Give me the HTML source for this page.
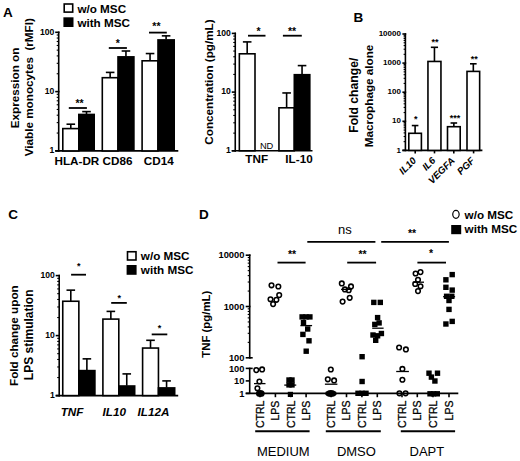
<!DOCTYPE html>
<html><head><meta charset="utf-8"><style>
html,body{margin:0;padding:0;background:#fff;width:520px;height:461px;overflow:hidden}
svg{display:block}
text{font-family:"Liberation Sans",sans-serif;fill:#000}
</style></head><body>
<svg width="520" height="461" viewBox="0 0 520 461">
<rect width="520" height="461" fill="#fff"/>
<text x="3.00" y="16.80" font-size="13.5" font-weight="bold" font-style="normal" text-anchor="start">A</text>
<rect x="64.20" y="4.00" width="8.50" height="8.10" fill="#fff" stroke="#000" stroke-width="1.6"/>
<text x="77.40" y="12.50" font-size="11.7" font-weight="bold" font-style="normal" text-anchor="start">w/o MSC</text>
<rect x="63.40" y="17.30" width="10.10" height="9.70" fill="#000"/>
<text x="77.40" y="26.70" font-size="11.7" font-weight="bold" font-style="normal" text-anchor="start">with MSC</text>
<line x1="58.70" y1="31.50" x2="58.70" y2="151.70" stroke="#000" stroke-width="1.6"/>
<line x1="55.20" y1="150.90" x2="59.50" y2="150.90" stroke="#000" stroke-width="1.6"/>
<line x1="56.70" y1="133.05" x2="58.70" y2="133.05" stroke="#000" stroke-width="1.1"/>
<line x1="56.70" y1="122.61" x2="58.70" y2="122.61" stroke="#000" stroke-width="1.1"/>
<line x1="56.70" y1="115.20" x2="58.70" y2="115.20" stroke="#000" stroke-width="1.1"/>
<line x1="56.70" y1="109.45" x2="58.70" y2="109.45" stroke="#000" stroke-width="1.1"/>
<line x1="56.70" y1="104.76" x2="58.70" y2="104.76" stroke="#000" stroke-width="1.1"/>
<line x1="56.70" y1="100.79" x2="58.70" y2="100.79" stroke="#000" stroke-width="1.1"/>
<line x1="56.70" y1="97.35" x2="58.70" y2="97.35" stroke="#000" stroke-width="1.1"/>
<line x1="56.70" y1="94.31" x2="58.70" y2="94.31" stroke="#000" stroke-width="1.1"/>
<line x1="55.20" y1="91.60" x2="59.50" y2="91.60" stroke="#000" stroke-width="1.6"/>
<line x1="56.70" y1="73.75" x2="58.70" y2="73.75" stroke="#000" stroke-width="1.1"/>
<line x1="56.70" y1="63.31" x2="58.70" y2="63.31" stroke="#000" stroke-width="1.1"/>
<line x1="56.70" y1="55.90" x2="58.70" y2="55.90" stroke="#000" stroke-width="1.1"/>
<line x1="56.70" y1="50.15" x2="58.70" y2="50.15" stroke="#000" stroke-width="1.1"/>
<line x1="56.70" y1="45.46" x2="58.70" y2="45.46" stroke="#000" stroke-width="1.1"/>
<line x1="56.70" y1="41.49" x2="58.70" y2="41.49" stroke="#000" stroke-width="1.1"/>
<line x1="56.70" y1="38.05" x2="58.70" y2="38.05" stroke="#000" stroke-width="1.1"/>
<line x1="56.70" y1="35.01" x2="58.70" y2="35.01" stroke="#000" stroke-width="1.1"/>
<line x1="55.20" y1="32.30" x2="59.50" y2="32.30" stroke="#000" stroke-width="1.6"/>
<text x="54.30" y="34.62" font-size="8.6" font-weight="bold" font-style="normal" text-anchor="end">100</text>
<text x="54.30" y="93.92" font-size="8.6" font-weight="bold" font-style="normal" text-anchor="end">10</text>
<text x="54.30" y="153.22" font-size="8.6" font-weight="bold" font-style="normal" text-anchor="end">1</text>
<line x1="55.20" y1="150.90" x2="178.30" y2="150.90" stroke="#000" stroke-width="1.6"/>
<line x1="70.80" y1="128.60" x2="70.80" y2="124.20" stroke="#000" stroke-width="1.6"/>
<line x1="66.50" y1="124.20" x2="75.10" y2="124.20" stroke="#000" stroke-width="1.6"/>
<rect x="62.80" y="128.60" width="16.00" height="22.30" fill="#fff" stroke="#000" stroke-width="1.6"/>
<line x1="86.50" y1="114.15" x2="86.50" y2="111.60" stroke="#000" stroke-width="1.6"/>
<line x1="82.20" y1="111.60" x2="90.80" y2="111.60" stroke="#000" stroke-width="1.6"/>
<rect x="78.00" y="113.65" width="17.00" height="37.25" fill="#000"/>
<line x1="110.15" y1="77.70" x2="110.15" y2="72.40" stroke="#000" stroke-width="1.6"/>
<line x1="105.85" y1="72.40" x2="114.45" y2="72.40" stroke="#000" stroke-width="1.6"/>
<rect x="102.30" y="77.70" width="15.70" height="73.20" fill="#fff" stroke="#000" stroke-width="1.6"/>
<line x1="125.95" y1="56.56" x2="125.95" y2="51.00" stroke="#000" stroke-width="1.6"/>
<line x1="121.65" y1="51.00" x2="130.25" y2="51.00" stroke="#000" stroke-width="1.6"/>
<rect x="117.20" y="56.06" width="17.50" height="94.84" fill="#000"/>
<line x1="150.05" y1="60.80" x2="150.05" y2="53.55" stroke="#000" stroke-width="1.6"/>
<line x1="145.75" y1="53.55" x2="154.35" y2="53.55" stroke="#000" stroke-width="1.6"/>
<rect x="142.10" y="60.80" width="15.90" height="90.10" fill="#fff" stroke="#000" stroke-width="1.6"/>
<line x1="166.10" y1="39.60" x2="166.10" y2="35.85" stroke="#000" stroke-width="1.6"/>
<line x1="161.80" y1="35.85" x2="170.40" y2="35.85" stroke="#000" stroke-width="1.6"/>
<rect x="157.20" y="39.10" width="17.80" height="111.80" fill="#000"/>
<line x1="68.80" y1="108.00" x2="86.90" y2="108.00" stroke="#000" stroke-width="1.8"/>
<text x="79.50" y="106.85" font-size="10.5" font-weight="bold" font-style="normal" text-anchor="middle">**</text>
<line x1="108.80" y1="48.00" x2="126.90" y2="48.00" stroke="#000" stroke-width="1.8"/>
<text x="117.90" y="46.85" font-size="10.5" font-weight="bold" font-style="normal" text-anchor="middle">*</text>
<line x1="149.00" y1="32.60" x2="166.80" y2="32.60" stroke="#000" stroke-width="1.8"/>
<text x="156.40" y="29.85" font-size="10.5" font-weight="bold" font-style="normal" text-anchor="middle">**</text>
<text x="76.90" y="165.20" font-size="11.7" font-weight="bold" font-style="normal" text-anchor="middle">HLA-DR</text>
<text x="117.50" y="165.20" font-size="11.7" font-weight="bold" font-style="normal" text-anchor="middle">CD86</text>
<text x="158.75" y="165.20" font-size="11.7" font-weight="bold" font-style="normal" text-anchor="middle">CD14</text>
<text x="18.60" y="87.90" font-size="11.7" font-weight="bold" font-style="normal" text-anchor="middle" transform="rotate(-90 18.60 87.90)">Expression on</text>
<text x="33.30" y="87.20" font-size="11.7" font-weight="bold" font-style="normal" text-anchor="middle" transform="rotate(-90 33.30 87.20)">Viable monocytes&#160; (rMFI)</text>
<line x1="235.25" y1="32.60" x2="235.25" y2="151.60" stroke="#000" stroke-width="1.6"/>
<line x1="231.75" y1="150.80" x2="236.05" y2="150.80" stroke="#000" stroke-width="1.6"/>
<line x1="233.25" y1="133.13" x2="235.25" y2="133.13" stroke="#000" stroke-width="1.1"/>
<line x1="233.25" y1="122.79" x2="235.25" y2="122.79" stroke="#000" stroke-width="1.1"/>
<line x1="233.25" y1="115.46" x2="235.25" y2="115.46" stroke="#000" stroke-width="1.1"/>
<line x1="233.25" y1="109.77" x2="235.25" y2="109.77" stroke="#000" stroke-width="1.1"/>
<line x1="233.25" y1="105.12" x2="235.25" y2="105.12" stroke="#000" stroke-width="1.1"/>
<line x1="233.25" y1="101.19" x2="235.25" y2="101.19" stroke="#000" stroke-width="1.1"/>
<line x1="233.25" y1="97.79" x2="235.25" y2="97.79" stroke="#000" stroke-width="1.1"/>
<line x1="233.25" y1="94.79" x2="235.25" y2="94.79" stroke="#000" stroke-width="1.1"/>
<line x1="231.75" y1="92.10" x2="236.05" y2="92.10" stroke="#000" stroke-width="1.6"/>
<line x1="233.25" y1="74.43" x2="235.25" y2="74.43" stroke="#000" stroke-width="1.1"/>
<line x1="233.25" y1="64.09" x2="235.25" y2="64.09" stroke="#000" stroke-width="1.1"/>
<line x1="233.25" y1="56.76" x2="235.25" y2="56.76" stroke="#000" stroke-width="1.1"/>
<line x1="233.25" y1="51.07" x2="235.25" y2="51.07" stroke="#000" stroke-width="1.1"/>
<line x1="233.25" y1="46.42" x2="235.25" y2="46.42" stroke="#000" stroke-width="1.1"/>
<line x1="233.25" y1="42.49" x2="235.25" y2="42.49" stroke="#000" stroke-width="1.1"/>
<line x1="233.25" y1="39.09" x2="235.25" y2="39.09" stroke="#000" stroke-width="1.1"/>
<line x1="233.25" y1="36.09" x2="235.25" y2="36.09" stroke="#000" stroke-width="1.1"/>
<line x1="231.75" y1="33.40" x2="236.05" y2="33.40" stroke="#000" stroke-width="1.6"/>
<text x="230.85" y="35.72" font-size="8.6" font-weight="bold" font-style="normal" text-anchor="end">100</text>
<text x="230.85" y="94.42" font-size="8.6" font-weight="bold" font-style="normal" text-anchor="end">10</text>
<text x="230.85" y="153.12" font-size="8.6" font-weight="bold" font-style="normal" text-anchor="end">1</text>
<line x1="231.75" y1="150.80" x2="312.50" y2="150.80" stroke="#000" stroke-width="1.6"/>
<line x1="247.18" y1="53.80" x2="247.18" y2="41.90" stroke="#000" stroke-width="1.6"/>
<line x1="242.88" y1="41.90" x2="251.48" y2="41.90" stroke="#000" stroke-width="1.6"/>
<rect x="239.35" y="53.80" width="15.65" height="97.00" fill="#fff" stroke="#000" stroke-width="1.6"/>
<text x="266.60" y="148.70" font-size="9.3" font-weight="normal" font-style="normal" text-anchor="middle">ND</text>
<line x1="286.62" y1="107.80" x2="286.62" y2="92.95" stroke="#000" stroke-width="1.6"/>
<line x1="282.32" y1="92.95" x2="290.93" y2="92.95" stroke="#000" stroke-width="1.6"/>
<rect x="278.95" y="107.80" width="15.35" height="43.00" fill="#fff" stroke="#000" stroke-width="1.6"/>
<line x1="302.05" y1="74.40" x2="302.05" y2="65.60" stroke="#000" stroke-width="1.6"/>
<line x1="297.75" y1="65.60" x2="306.35" y2="65.60" stroke="#000" stroke-width="1.6"/>
<rect x="293.50" y="73.90" width="17.10" height="76.90" fill="#000"/>
<line x1="248.00" y1="35.70" x2="265.50" y2="35.70" stroke="#000" stroke-width="1.8"/>
<text x="258.60" y="35.45" font-size="10.5" font-weight="bold" font-style="normal" text-anchor="middle">*</text>
<line x1="282.90" y1="35.70" x2="301.80" y2="35.70" stroke="#000" stroke-width="1.8"/>
<text x="292.00" y="35.35" font-size="10.5" font-weight="bold" font-style="normal" text-anchor="middle">**</text>
<text x="256.70" y="163.20" font-size="11.7" font-weight="bold" font-style="normal" text-anchor="middle">TNF</text>
<text x="299.00" y="163.20" font-size="11.7" font-weight="bold" font-style="normal" text-anchor="middle">IL-10</text>
<text x="213.30" y="82.00" font-size="11.7" font-weight="bold" font-style="normal" text-anchor="middle" transform="rotate(-90 213.30 82.00)">Concentration (pg/mL)</text>
<text x="353.40" y="22.00" font-size="13.5" font-weight="bold" font-style="normal" text-anchor="start">B</text>
<line x1="405.40" y1="33.20" x2="405.40" y2="151.20" stroke="#000" stroke-width="1.6"/>
<line x1="402.40" y1="150.40" x2="406.20" y2="150.40" stroke="#000" stroke-width="1.6"/>
<line x1="403.60" y1="141.64" x2="405.40" y2="141.64" stroke="#000" stroke-width="1.1"/>
<line x1="403.60" y1="136.52" x2="405.40" y2="136.52" stroke="#000" stroke-width="1.1"/>
<line x1="403.60" y1="132.88" x2="405.40" y2="132.88" stroke="#000" stroke-width="1.1"/>
<line x1="403.60" y1="130.06" x2="405.40" y2="130.06" stroke="#000" stroke-width="1.1"/>
<line x1="403.60" y1="127.76" x2="405.40" y2="127.76" stroke="#000" stroke-width="1.1"/>
<line x1="403.60" y1="125.81" x2="405.40" y2="125.81" stroke="#000" stroke-width="1.1"/>
<line x1="403.60" y1="124.12" x2="405.40" y2="124.12" stroke="#000" stroke-width="1.1"/>
<line x1="403.60" y1="122.63" x2="405.40" y2="122.63" stroke="#000" stroke-width="1.1"/>
<line x1="402.40" y1="121.30" x2="406.20" y2="121.30" stroke="#000" stroke-width="1.6"/>
<line x1="403.60" y1="112.54" x2="405.40" y2="112.54" stroke="#000" stroke-width="1.1"/>
<line x1="403.60" y1="107.42" x2="405.40" y2="107.42" stroke="#000" stroke-width="1.1"/>
<line x1="403.60" y1="103.78" x2="405.40" y2="103.78" stroke="#000" stroke-width="1.1"/>
<line x1="403.60" y1="100.96" x2="405.40" y2="100.96" stroke="#000" stroke-width="1.1"/>
<line x1="403.60" y1="98.66" x2="405.40" y2="98.66" stroke="#000" stroke-width="1.1"/>
<line x1="403.60" y1="96.71" x2="405.40" y2="96.71" stroke="#000" stroke-width="1.1"/>
<line x1="403.60" y1="95.02" x2="405.40" y2="95.02" stroke="#000" stroke-width="1.1"/>
<line x1="403.60" y1="93.53" x2="405.40" y2="93.53" stroke="#000" stroke-width="1.1"/>
<line x1="402.40" y1="92.20" x2="406.20" y2="92.20" stroke="#000" stroke-width="1.6"/>
<line x1="403.60" y1="83.44" x2="405.40" y2="83.44" stroke="#000" stroke-width="1.1"/>
<line x1="403.60" y1="78.32" x2="405.40" y2="78.32" stroke="#000" stroke-width="1.1"/>
<line x1="403.60" y1="74.68" x2="405.40" y2="74.68" stroke="#000" stroke-width="1.1"/>
<line x1="403.60" y1="71.86" x2="405.40" y2="71.86" stroke="#000" stroke-width="1.1"/>
<line x1="403.60" y1="69.56" x2="405.40" y2="69.56" stroke="#000" stroke-width="1.1"/>
<line x1="403.60" y1="67.61" x2="405.40" y2="67.61" stroke="#000" stroke-width="1.1"/>
<line x1="403.60" y1="65.92" x2="405.40" y2="65.92" stroke="#000" stroke-width="1.1"/>
<line x1="403.60" y1="64.43" x2="405.40" y2="64.43" stroke="#000" stroke-width="1.1"/>
<line x1="402.40" y1="63.10" x2="406.20" y2="63.10" stroke="#000" stroke-width="1.6"/>
<line x1="403.60" y1="54.34" x2="405.40" y2="54.34" stroke="#000" stroke-width="1.1"/>
<line x1="403.60" y1="49.22" x2="405.40" y2="49.22" stroke="#000" stroke-width="1.1"/>
<line x1="403.60" y1="45.58" x2="405.40" y2="45.58" stroke="#000" stroke-width="1.1"/>
<line x1="403.60" y1="42.76" x2="405.40" y2="42.76" stroke="#000" stroke-width="1.1"/>
<line x1="403.60" y1="40.46" x2="405.40" y2="40.46" stroke="#000" stroke-width="1.1"/>
<line x1="403.60" y1="38.51" x2="405.40" y2="38.51" stroke="#000" stroke-width="1.1"/>
<line x1="403.60" y1="36.82" x2="405.40" y2="36.82" stroke="#000" stroke-width="1.1"/>
<line x1="403.60" y1="35.33" x2="405.40" y2="35.33" stroke="#000" stroke-width="1.1"/>
<line x1="402.40" y1="34.00" x2="406.20" y2="34.00" stroke="#000" stroke-width="1.6"/>
<text x="400.90" y="36.16" font-size="8" font-weight="bold" font-style="normal" text-anchor="end">10000</text>
<text x="400.90" y="65.26" font-size="8" font-weight="bold" font-style="normal" text-anchor="end">1000</text>
<text x="400.90" y="94.36" font-size="8" font-weight="bold" font-style="normal" text-anchor="end">100</text>
<text x="400.90" y="123.46" font-size="8" font-weight="bold" font-style="normal" text-anchor="end">10</text>
<text x="400.90" y="152.56" font-size="8" font-weight="bold" font-style="normal" text-anchor="end">1</text>
<line x1="402.40" y1="150.40" x2="482.40" y2="150.40" stroke="#000" stroke-width="1.6"/>
<line x1="415.20" y1="150.40" x2="415.20" y2="153.40" stroke="#000" stroke-width="1.6"/>
<line x1="434.50" y1="150.40" x2="434.50" y2="153.40" stroke="#000" stroke-width="1.6"/>
<line x1="453.80" y1="150.40" x2="453.80" y2="153.40" stroke="#000" stroke-width="1.6"/>
<line x1="473.60" y1="150.40" x2="473.60" y2="153.40" stroke="#000" stroke-width="1.6"/>
<line x1="415.10" y1="133.30" x2="415.10" y2="125.55" stroke="#000" stroke-width="1.6"/>
<line x1="411.80" y1="125.55" x2="418.40" y2="125.55" stroke="#000" stroke-width="1.6"/>
<rect x="408.80" y="133.30" width="12.60" height="17.10" fill="#fff" stroke="#000" stroke-width="1.6"/>
<line x1="434.45" y1="61.45" x2="434.45" y2="47.30" stroke="#000" stroke-width="1.6"/>
<line x1="430.85" y1="47.30" x2="438.05" y2="47.30" stroke="#000" stroke-width="1.6"/>
<rect x="427.95" y="61.45" width="13.00" height="88.95" fill="#fff" stroke="#000" stroke-width="1.6"/>
<line x1="453.85" y1="126.70" x2="453.85" y2="123.00" stroke="#000" stroke-width="1.6"/>
<line x1="450.55" y1="123.00" x2="457.15" y2="123.00" stroke="#000" stroke-width="1.6"/>
<rect x="447.50" y="126.70" width="12.70" height="23.70" fill="#fff" stroke="#000" stroke-width="1.6"/>
<line x1="473.32" y1="71.40" x2="473.32" y2="63.80" stroke="#000" stroke-width="1.6"/>
<line x1="470.02" y1="63.80" x2="476.62" y2="63.80" stroke="#000" stroke-width="1.6"/>
<rect x="467.00" y="71.40" width="12.65" height="79.00" fill="#fff" stroke="#000" stroke-width="1.6"/>
<text x="415.70" y="122.30" font-size="9" font-weight="bold" font-style="normal" text-anchor="middle">*</text>
<text x="435.00" y="44.90" font-size="9" font-weight="bold" font-style="normal" text-anchor="middle">**</text>
<text x="455.10" y="121.40" font-size="9" font-weight="bold" font-style="normal" text-anchor="middle">***</text>
<text x="474.15" y="61.90" font-size="9" font-weight="bold" font-style="normal" text-anchor="middle">**</text>
<text x="416.80" y="161.20" font-size="9.7" font-weight="bold" font-style="italic" text-anchor="end" transform="rotate(-45 416.80 161.20)">IL10</text>
<text x="436.10" y="161.20" font-size="9.7" font-weight="bold" font-style="italic" text-anchor="end" transform="rotate(-45 436.10 161.20)">IL6</text>
<text x="455.40" y="161.20" font-size="9.7" font-weight="bold" font-style="italic" text-anchor="end" transform="rotate(-45 455.40 161.20)">VEGFA</text>
<text x="475.20" y="161.20" font-size="9.7" font-weight="bold" font-style="italic" text-anchor="end" transform="rotate(-45 475.20 161.20)">PGF</text>
<text x="358.20" y="95.20" font-size="12.2" font-weight="bold" font-style="normal" text-anchor="middle" transform="rotate(-90 358.20 95.20)">Fold change/</text>
<text x="373.00" y="96.00" font-size="11.7" font-weight="bold" font-style="normal" text-anchor="middle" transform="rotate(-90 373.00 96.00)">Macrophage alone</text>
<text x="8.30" y="219.40" font-size="13.5" font-weight="bold" font-style="normal" text-anchor="start">C</text>
<rect x="127.50" y="251.75" width="8.50" height="8.25" fill="#fff" stroke="#000" stroke-width="1.6"/>
<text x="140.80" y="259.90" font-size="11.7" font-weight="bold" font-style="normal" text-anchor="start">w/o MSC</text>
<rect x="126.60" y="265.00" width="10.00" height="9.80" fill="#000"/>
<text x="140.80" y="273.60" font-size="11.7" font-weight="bold" font-style="normal" text-anchor="start">with MSC</text>
<line x1="59.20" y1="274.80" x2="59.20" y2="396.40" stroke="#000" stroke-width="1.6"/>
<line x1="55.70" y1="395.60" x2="60.00" y2="395.60" stroke="#000" stroke-width="1.6"/>
<line x1="57.20" y1="377.54" x2="59.20" y2="377.54" stroke="#000" stroke-width="1.1"/>
<line x1="57.20" y1="366.97" x2="59.20" y2="366.97" stroke="#000" stroke-width="1.1"/>
<line x1="57.20" y1="359.48" x2="59.20" y2="359.48" stroke="#000" stroke-width="1.1"/>
<line x1="57.20" y1="353.66" x2="59.20" y2="353.66" stroke="#000" stroke-width="1.1"/>
<line x1="57.20" y1="348.91" x2="59.20" y2="348.91" stroke="#000" stroke-width="1.1"/>
<line x1="57.20" y1="344.89" x2="59.20" y2="344.89" stroke="#000" stroke-width="1.1"/>
<line x1="57.20" y1="341.41" x2="59.20" y2="341.41" stroke="#000" stroke-width="1.1"/>
<line x1="57.20" y1="338.35" x2="59.20" y2="338.35" stroke="#000" stroke-width="1.1"/>
<line x1="55.70" y1="335.60" x2="60.00" y2="335.60" stroke="#000" stroke-width="1.6"/>
<line x1="57.20" y1="317.54" x2="59.20" y2="317.54" stroke="#000" stroke-width="1.1"/>
<line x1="57.20" y1="306.97" x2="59.20" y2="306.97" stroke="#000" stroke-width="1.1"/>
<line x1="57.20" y1="299.48" x2="59.20" y2="299.48" stroke="#000" stroke-width="1.1"/>
<line x1="57.20" y1="293.66" x2="59.20" y2="293.66" stroke="#000" stroke-width="1.1"/>
<line x1="57.20" y1="288.91" x2="59.20" y2="288.91" stroke="#000" stroke-width="1.1"/>
<line x1="57.20" y1="284.89" x2="59.20" y2="284.89" stroke="#000" stroke-width="1.1"/>
<line x1="57.20" y1="281.41" x2="59.20" y2="281.41" stroke="#000" stroke-width="1.1"/>
<line x1="57.20" y1="278.35" x2="59.20" y2="278.35" stroke="#000" stroke-width="1.1"/>
<line x1="55.70" y1="275.60" x2="60.00" y2="275.60" stroke="#000" stroke-width="1.6"/>
<text x="54.80" y="277.92" font-size="8.6" font-weight="bold" font-style="normal" text-anchor="end">100</text>
<text x="54.80" y="337.92" font-size="8.6" font-weight="bold" font-style="normal" text-anchor="end">10</text>
<text x="54.80" y="397.92" font-size="8.6" font-weight="bold" font-style="normal" text-anchor="end">1</text>
<line x1="55.70" y1="395.60" x2="178.20" y2="395.60" stroke="#000" stroke-width="1.6"/>
<line x1="70.80" y1="301.25" x2="70.80" y2="290.15" stroke="#000" stroke-width="1.6"/>
<line x1="66.50" y1="290.15" x2="75.10" y2="290.15" stroke="#000" stroke-width="1.6"/>
<rect x="62.75" y="301.25" width="16.10" height="94.35" fill="#fff" stroke="#000" stroke-width="1.6"/>
<line x1="86.88" y1="370.30" x2="86.88" y2="358.85" stroke="#000" stroke-width="1.6"/>
<line x1="82.58" y1="358.85" x2="91.17" y2="358.85" stroke="#000" stroke-width="1.6"/>
<rect x="78.05" y="369.80" width="17.65" height="25.80" fill="#000"/>
<line x1="110.85" y1="319.10" x2="110.85" y2="311.40" stroke="#000" stroke-width="1.6"/>
<line x1="106.55" y1="311.40" x2="115.15" y2="311.40" stroke="#000" stroke-width="1.6"/>
<rect x="102.90" y="319.10" width="15.90" height="76.50" fill="#fff" stroke="#000" stroke-width="1.6"/>
<line x1="126.75" y1="385.70" x2="126.75" y2="373.90" stroke="#000" stroke-width="1.6"/>
<line x1="122.45" y1="373.90" x2="131.05" y2="373.90" stroke="#000" stroke-width="1.6"/>
<rect x="118.00" y="385.20" width="17.50" height="10.40" fill="#000"/>
<line x1="150.52" y1="348.05" x2="150.52" y2="340.30" stroke="#000" stroke-width="1.6"/>
<line x1="146.22" y1="340.30" x2="154.82" y2="340.30" stroke="#000" stroke-width="1.6"/>
<rect x="142.60" y="348.05" width="15.85" height="47.55" fill="#fff" stroke="#000" stroke-width="1.6"/>
<line x1="166.57" y1="387.60" x2="166.57" y2="380.90" stroke="#000" stroke-width="1.6"/>
<line x1="162.27" y1="380.90" x2="170.88" y2="380.90" stroke="#000" stroke-width="1.6"/>
<rect x="157.65" y="387.10" width="17.85" height="8.50" fill="#000"/>
<line x1="71.10" y1="274.70" x2="86.00" y2="274.70" stroke="#000" stroke-width="1.8"/>
<text x="78.80" y="269.30" font-size="9" font-weight="bold" font-style="normal" text-anchor="middle">*</text>
<line x1="111.20" y1="302.90" x2="126.80" y2="302.90" stroke="#000" stroke-width="1.8"/>
<text x="119.20" y="300.50" font-size="9" font-weight="bold" font-style="normal" text-anchor="middle">*</text>
<line x1="151.70" y1="334.40" x2="167.30" y2="334.40" stroke="#000" stroke-width="1.8"/>
<text x="159.40" y="331.30" font-size="9" font-weight="bold" font-style="normal" text-anchor="middle">*</text>
<text x="72.00" y="416.40" font-size="11.7" font-weight="bold" font-style="italic" text-anchor="middle">TNF</text>
<text x="114.30" y="416.40" font-size="11.7" font-weight="bold" font-style="italic" text-anchor="middle">IL10</text>
<text x="153.50" y="416.40" font-size="11.7" font-weight="bold" font-style="italic" text-anchor="middle">IL12A</text>
<text x="17.90" y="335.65" font-size="11.7" font-weight="bold" font-style="normal" text-anchor="middle" transform="rotate(-90 17.90 335.65)">Fold change upon</text>
<text x="33.20" y="334.85" font-size="12" font-weight="bold" font-style="normal" text-anchor="middle" transform="rotate(-90 33.20 334.85)">LPS stimulation</text>
<text x="198.90" y="219.30" font-size="13.5" font-weight="bold" font-style="normal" text-anchor="start">D</text>
<line x1="249.70" y1="254.40" x2="249.70" y2="358.60" stroke="#000" stroke-width="1.6"/>
<line x1="245.70" y1="357.80" x2="250.50" y2="357.80" stroke="#000" stroke-width="1.6"/>
<line x1="245.70" y1="306.50" x2="250.50" y2="306.50" stroke="#000" stroke-width="1.6"/>
<line x1="245.70" y1="255.20" x2="250.50" y2="255.20" stroke="#000" stroke-width="1.6"/>
<line x1="247.70" y1="342.36" x2="249.70" y2="342.36" stroke="#000" stroke-width="1.1"/>
<line x1="247.70" y1="333.32" x2="249.70" y2="333.32" stroke="#000" stroke-width="1.1"/>
<line x1="247.70" y1="326.91" x2="249.70" y2="326.91" stroke="#000" stroke-width="1.1"/>
<line x1="247.70" y1="321.94" x2="249.70" y2="321.94" stroke="#000" stroke-width="1.1"/>
<line x1="247.70" y1="317.88" x2="249.70" y2="317.88" stroke="#000" stroke-width="1.1"/>
<line x1="247.70" y1="314.45" x2="249.70" y2="314.45" stroke="#000" stroke-width="1.1"/>
<line x1="247.70" y1="311.47" x2="249.70" y2="311.47" stroke="#000" stroke-width="1.1"/>
<line x1="247.70" y1="308.85" x2="249.70" y2="308.85" stroke="#000" stroke-width="1.1"/>
<line x1="247.70" y1="291.06" x2="249.70" y2="291.06" stroke="#000" stroke-width="1.1"/>
<line x1="247.70" y1="282.02" x2="249.70" y2="282.02" stroke="#000" stroke-width="1.1"/>
<line x1="247.70" y1="275.61" x2="249.70" y2="275.61" stroke="#000" stroke-width="1.1"/>
<line x1="247.70" y1="270.64" x2="249.70" y2="270.64" stroke="#000" stroke-width="1.1"/>
<line x1="247.70" y1="266.58" x2="249.70" y2="266.58" stroke="#000" stroke-width="1.1"/>
<line x1="247.70" y1="263.15" x2="249.70" y2="263.15" stroke="#000" stroke-width="1.1"/>
<line x1="247.70" y1="260.17" x2="249.70" y2="260.17" stroke="#000" stroke-width="1.1"/>
<line x1="247.70" y1="257.55" x2="249.70" y2="257.55" stroke="#000" stroke-width="1.1"/>
<line x1="249.70" y1="357.80" x2="252.70" y2="357.80" stroke="#000" stroke-width="1.6"/>
<text x="244.40" y="258.45" font-size="9.3" font-weight="bold" font-style="normal" text-anchor="end">10000</text>
<text x="244.40" y="309.75" font-size="9.3" font-weight="bold" font-style="normal" text-anchor="end">1000</text>
<text x="244.40" y="361.05" font-size="9.3" font-weight="bold" font-style="normal" text-anchor="end">100</text>
<line x1="249.70" y1="367.60" x2="249.70" y2="393.40" stroke="#000" stroke-width="1.6"/>
<line x1="245.70" y1="393.40" x2="249.70" y2="393.40" stroke="#000" stroke-width="1.6"/>
<line x1="245.70" y1="380.90" x2="249.70" y2="380.90" stroke="#000" stroke-width="1.6"/>
<line x1="245.70" y1="368.40" x2="249.70" y2="368.40" stroke="#000" stroke-width="1.6"/>
<line x1="249.70" y1="368.40" x2="252.70" y2="368.40" stroke="#000" stroke-width="1.6"/>
<text x="244.40" y="371.65" font-size="9.3" font-weight="bold" font-style="normal" text-anchor="end">100</text>
<text x="244.40" y="384.15" font-size="9.3" font-weight="bold" font-style="normal" text-anchor="end">10</text>
<text x="244.40" y="396.65" font-size="9.3" font-weight="bold" font-style="normal" text-anchor="end">1</text>
<line x1="245.70" y1="393.40" x2="458.30" y2="393.40" stroke="#000" stroke-width="1.6"/>
<line x1="260.00" y1="393.40" x2="260.00" y2="397.20" stroke="#000" stroke-width="1.6"/>
<text x="263.80" y="400.60" font-size="10.5" font-weight="normal" font-style="normal" text-anchor="end" transform="rotate(-90 263.80 400.60)" stroke="#000" stroke-width="0.3">CTRL</text>
<line x1="275.40" y1="393.40" x2="275.40" y2="397.20" stroke="#000" stroke-width="1.6"/>
<text x="279.20" y="400.60" font-size="10.5" font-weight="normal" font-style="normal" text-anchor="end" transform="rotate(-90 279.20 400.60)" stroke="#000" stroke-width="0.3">LPS</text>
<line x1="290.75" y1="393.40" x2="290.75" y2="397.20" stroke="#000" stroke-width="1.6"/>
<text x="294.55" y="400.60" font-size="10.5" font-weight="normal" font-style="normal" text-anchor="end" transform="rotate(-90 294.55 400.60)" stroke="#000" stroke-width="0.3">CTRL</text>
<line x1="306.10" y1="393.40" x2="306.10" y2="397.20" stroke="#000" stroke-width="1.6"/>
<text x="309.90" y="400.60" font-size="10.5" font-weight="normal" font-style="normal" text-anchor="end" transform="rotate(-90 309.90 400.60)" stroke="#000" stroke-width="0.3">LPS</text>
<line x1="331.10" y1="393.40" x2="331.10" y2="397.20" stroke="#000" stroke-width="1.6"/>
<text x="334.90" y="400.60" font-size="10.5" font-weight="normal" font-style="normal" text-anchor="end" transform="rotate(-90 334.90 400.60)" stroke="#000" stroke-width="0.3">CTRL</text>
<line x1="346.50" y1="393.40" x2="346.50" y2="397.20" stroke="#000" stroke-width="1.6"/>
<text x="350.30" y="400.60" font-size="10.5" font-weight="normal" font-style="normal" text-anchor="end" transform="rotate(-90 350.30 400.60)" stroke="#000" stroke-width="0.3">LPS</text>
<line x1="361.90" y1="393.40" x2="361.90" y2="397.20" stroke="#000" stroke-width="1.6"/>
<text x="365.70" y="400.60" font-size="10.5" font-weight="normal" font-style="normal" text-anchor="end" transform="rotate(-90 365.70 400.60)" stroke="#000" stroke-width="0.3">CTRL</text>
<line x1="377.30" y1="393.40" x2="377.30" y2="397.20" stroke="#000" stroke-width="1.6"/>
<text x="381.10" y="400.60" font-size="10.5" font-weight="normal" font-style="normal" text-anchor="end" transform="rotate(-90 381.10 400.60)" stroke="#000" stroke-width="0.3">LPS</text>
<line x1="402.00" y1="393.40" x2="402.00" y2="397.20" stroke="#000" stroke-width="1.6"/>
<text x="405.80" y="400.60" font-size="10.5" font-weight="normal" font-style="normal" text-anchor="end" transform="rotate(-90 405.80 400.60)" stroke="#000" stroke-width="0.3">CTRL</text>
<line x1="417.30" y1="393.40" x2="417.30" y2="397.20" stroke="#000" stroke-width="1.6"/>
<text x="421.10" y="400.60" font-size="10.5" font-weight="normal" font-style="normal" text-anchor="end" transform="rotate(-90 421.10 400.60)" stroke="#000" stroke-width="0.3">LPS</text>
<line x1="433.00" y1="393.40" x2="433.00" y2="397.20" stroke="#000" stroke-width="1.6"/>
<text x="436.80" y="400.60" font-size="10.5" font-weight="normal" font-style="normal" text-anchor="end" transform="rotate(-90 436.80 400.60)" stroke="#000" stroke-width="0.3">CTRL</text>
<line x1="449.00" y1="393.40" x2="449.00" y2="397.20" stroke="#000" stroke-width="1.6"/>
<text x="452.80" y="400.60" font-size="10.5" font-weight="normal" font-style="normal" text-anchor="end" transform="rotate(-90 452.80 400.60)" stroke="#000" stroke-width="0.3">LPS</text>
<line x1="255.20" y1="431.30" x2="309.60" y2="431.30" stroke="#000" stroke-width="2"/>
<text x="283.30" y="455.50" font-size="13" font-weight="normal" font-style="normal" text-anchor="middle">MEDIUM</text>
<line x1="325.80" y1="431.30" x2="380.80" y2="431.30" stroke="#000" stroke-width="2"/>
<text x="356.40" y="455.50" font-size="13" font-weight="normal" font-style="normal" text-anchor="middle">DMSO</text>
<line x1="400.80" y1="431.30" x2="455.10" y2="431.30" stroke="#000" stroke-width="2"/>
<text x="426.90" y="455.50" font-size="13" font-weight="normal" font-style="normal" text-anchor="middle">DAPT</text>
<text x="209.70" y="324.20" font-size="11.4" font-weight="bold" font-style="normal" text-anchor="middle" transform="rotate(-90 209.70 324.20)">TNF (pg/mL)</text>
<line x1="277.50" y1="262.60" x2="305.60" y2="262.60" stroke="#000" stroke-width="1.8"/>
<text x="292.00" y="258.25" font-size="10.5" font-weight="bold" font-style="normal" text-anchor="middle">**</text>
<line x1="347.20" y1="262.60" x2="376.10" y2="262.60" stroke="#000" stroke-width="1.8"/>
<text x="362.50" y="257.55" font-size="10.5" font-weight="bold" font-style="normal" text-anchor="middle">**</text>
<line x1="417.40" y1="262.60" x2="446.00" y2="262.60" stroke="#000" stroke-width="1.8"/>
<text x="431.00" y="257.25" font-size="10.5" font-weight="bold" font-style="normal" text-anchor="middle">*</text>
<line x1="307.30" y1="241.90" x2="375.40" y2="241.90" stroke="#000" stroke-width="1.8"/>
<text x="344.80" y="233.80" font-size="13" font-weight="normal" font-style="normal" text-anchor="middle">ns</text>
<line x1="381.20" y1="241.90" x2="448.90" y2="241.90" stroke="#000" stroke-width="1.8"/>
<text x="412.00" y="236.85" font-size="10.5" font-weight="bold" font-style="normal" text-anchor="middle">**</text>
<ellipse cx="455.95" cy="214.35" rx="3.2" ry="3.95" fill="#fff" stroke="#000" stroke-width="1.2"/>
<text x="464.60" y="219.30" font-size="11.7" font-weight="bold" font-style="normal" text-anchor="start">w/o MSC</text>
<rect x="451.20" y="225.00" width="10.00" height="9.20" fill="#000"/>
<text x="464.60" y="233.30" font-size="11.7" font-weight="bold" font-style="normal" text-anchor="start">with MSC</text>
<circle cx="256.30" cy="370.10" r="2.3" fill="none" stroke="#000" stroke-width="1.55"/>
<circle cx="262.10" cy="369.40" r="2.3" fill="none" stroke="#000" stroke-width="1.55"/>
<circle cx="259.40" cy="381.50" r="2.3" fill="none" stroke="#000" stroke-width="1.55"/>
<circle cx="257.40" cy="388.30" r="2.3" fill="none" stroke="#000" stroke-width="1.55"/>
<ellipse cx="260.3" cy="393.6" rx="4.4" ry="3.5" fill="#000"/>
<line x1="254.00" y1="383.60" x2="265.50" y2="383.60" stroke="#000" stroke-width="1.3"/>
<circle cx="271.50" cy="285.30" r="2.3" fill="none" stroke="#000" stroke-width="1.55"/>
<circle cx="278.35" cy="286.50" r="2.3" fill="none" stroke="#000" stroke-width="1.55"/>
<circle cx="279.20" cy="295.10" r="2.3" fill="none" stroke="#000" stroke-width="1.55"/>
<circle cx="270.50" cy="299.20" r="2.3" fill="none" stroke="#000" stroke-width="1.55"/>
<circle cx="276.40" cy="299.80" r="2.3" fill="none" stroke="#000" stroke-width="1.55"/>
<circle cx="273.10" cy="304.10" r="2.3" fill="none" stroke="#000" stroke-width="1.55"/>
<rect x="286.30" y="377.30" width="5.4" height="5.4" fill="#000"/>
<rect x="289.30" y="377.30" width="5.4" height="5.4" fill="#000"/>
<rect x="286.30" y="382.20" width="5.4" height="5.4" fill="#000"/>
<rect x="289.30" y="382.20" width="5.4" height="5.4" fill="#000"/>
<line x1="284.25" y1="385.10" x2="296.25" y2="385.10" stroke="#000" stroke-width="1.3"/>
<rect x="287.80" y="391.80" width="5.2" height="5.2" fill="#000"/>
<rect x="299.40" y="314.20" width="5.4" height="5.4" fill="#000"/>
<rect x="307.20" y="314.20" width="5.4" height="5.4" fill="#000"/>
<rect x="303.30" y="314.20" width="5.4" height="5.4" fill="#000"/>
<rect x="300.80" y="320.00" width="5.4" height="5.4" fill="#000"/>
<rect x="305.00" y="326.30" width="5.4" height="5.4" fill="#000"/>
<rect x="300.20" y="331.70" width="5.4" height="5.4" fill="#000"/>
<rect x="306.30" y="338.10" width="5.4" height="5.4" fill="#000"/>
<rect x="303.50" y="348.50" width="5.4" height="5.4" fill="#000"/>
<line x1="300.40" y1="325.60" x2="312.10" y2="325.60" stroke="#000" stroke-width="1.3"/>
<circle cx="330.80" cy="369.50" r="2.3" fill="none" stroke="#000" stroke-width="1.55"/>
<circle cx="327.80" cy="379.30" r="2.3" fill="none" stroke="#000" stroke-width="1.55"/>
<circle cx="334.10" cy="380.40" r="2.3" fill="none" stroke="#000" stroke-width="1.55"/>
<line x1="324.90" y1="384.20" x2="337.40" y2="384.20" stroke="#000" stroke-width="1.3"/>
<ellipse cx="330.9" cy="393.6" rx="5.9" ry="3.5" fill="#000"/>
<circle cx="341.80" cy="283.40" r="2.3" fill="none" stroke="#000" stroke-width="1.55"/>
<circle cx="351.00" cy="286.40" r="2.3" fill="none" stroke="#000" stroke-width="1.55"/>
<circle cx="344.90" cy="289.40" r="2.3" fill="none" stroke="#000" stroke-width="1.55"/>
<circle cx="348.70" cy="290.20" r="2.3" fill="none" stroke="#000" stroke-width="1.55"/>
<circle cx="349.70" cy="297.80" r="2.3" fill="none" stroke="#000" stroke-width="1.55"/>
<circle cx="342.60" cy="301.60" r="2.3" fill="none" stroke="#000" stroke-width="1.55"/>
<line x1="341.05" y1="289.40" x2="351.65" y2="289.40" stroke="#000" stroke-width="1.3"/>
<rect x="359.40" y="354.00" width="5.4" height="5.4" fill="#000"/>
<rect x="359.40" y="378.80" width="5.4" height="5.4" fill="#000"/>
<rect x="355.30" y="390.60" width="5.4" height="5.4" fill="#000"/>
<rect x="359.30" y="390.60" width="5.4" height="5.4" fill="#000"/>
<rect x="363.30" y="390.60" width="5.4" height="5.4" fill="#000"/>
<rect x="371.10" y="299.70" width="5.4" height="5.4" fill="#000"/>
<rect x="377.60" y="299.70" width="5.4" height="5.4" fill="#000"/>
<rect x="374.90" y="314.90" width="5.4" height="5.4" fill="#000"/>
<rect x="376.40" y="320.20" width="5.4" height="5.4" fill="#000"/>
<rect x="372.10" y="321.70" width="5.4" height="5.4" fill="#000"/>
<rect x="378.70" y="330.80" width="5.4" height="5.4" fill="#000"/>
<rect x="370.30" y="332.30" width="5.4" height="5.4" fill="#000"/>
<rect x="374.90" y="333.10" width="5.4" height="5.4" fill="#000"/>
<rect x="373.00" y="337.60" width="5.4" height="5.4" fill="#000"/>
<line x1="372.20" y1="328.20" x2="383.60" y2="328.20" stroke="#000" stroke-width="1.3"/>
<circle cx="399.10" cy="347.50" r="2.3" fill="none" stroke="#000" stroke-width="1.55"/>
<circle cx="405.90" cy="349.40" r="2.3" fill="none" stroke="#000" stroke-width="1.55"/>
<circle cx="402.40" cy="368.90" r="2.3" fill="none" stroke="#000" stroke-width="1.55"/>
<circle cx="402.40" cy="379.70" r="2.3" fill="none" stroke="#000" stroke-width="1.55"/>
<circle cx="399.40" cy="393.30" r="2.3" fill="none" stroke="#000" stroke-width="1.55"/>
<circle cx="405.60" cy="393.30" r="2.3" fill="none" stroke="#000" stroke-width="1.55"/>
<line x1="396.20" y1="371.50" x2="408.90" y2="371.50" stroke="#000" stroke-width="1.3"/>
<circle cx="415.60" cy="273.50" r="2.3" fill="none" stroke="#000" stroke-width="1.55"/>
<circle cx="420.50" cy="272.10" r="2.3" fill="none" stroke="#000" stroke-width="1.55"/>
<circle cx="418.00" cy="279.80" r="2.3" fill="none" stroke="#000" stroke-width="1.55"/>
<circle cx="415.20" cy="284.00" r="2.3" fill="none" stroke="#000" stroke-width="1.55"/>
<circle cx="420.50" cy="286.20" r="2.3" fill="none" stroke="#000" stroke-width="1.55"/>
<circle cx="418.00" cy="291.10" r="2.3" fill="none" stroke="#000" stroke-width="1.55"/>
<line x1="412.80" y1="282.20" x2="424.00" y2="282.20" stroke="#000" stroke-width="1.3"/>
<rect x="426.30" y="370.50" width="5.4" height="5.4" fill="#000"/>
<rect x="434.80" y="370.50" width="5.4" height="5.4" fill="#000"/>
<rect x="428.70" y="374.40" width="5.4" height="5.4" fill="#000"/>
<rect x="432.20" y="378.30" width="5.4" height="5.4" fill="#000"/>
<rect x="427.30" y="391.10" width="5.4" height="5.4" fill="#000"/>
<rect x="430.90" y="391.10" width="5.4" height="5.4" fill="#000"/>
<rect x="434.60" y="391.10" width="5.4" height="5.4" fill="#000"/>
<rect x="449.50" y="271.90" width="5.4" height="5.4" fill="#000"/>
<rect x="443.20" y="277.10" width="5.4" height="5.4" fill="#000"/>
<rect x="443.20" y="284.60" width="5.4" height="5.4" fill="#000"/>
<rect x="449.50" y="287.40" width="5.4" height="5.4" fill="#000"/>
<rect x="443.90" y="293.60" width="5.4" height="5.4" fill="#000"/>
<rect x="449.10" y="293.60" width="5.4" height="5.4" fill="#000"/>
<rect x="446.30" y="297.80" width="5.4" height="5.4" fill="#000"/>
<rect x="446.30" y="306.70" width="5.4" height="5.4" fill="#000"/>
<rect x="449.50" y="318.70" width="5.4" height="5.4" fill="#000"/>
<rect x="443.20" y="321.30" width="5.4" height="5.4" fill="#000"/>
<line x1="443.10" y1="296.70" x2="455.10" y2="296.70" stroke="#000" stroke-width="1.3"/>
</svg>
</body></html>
